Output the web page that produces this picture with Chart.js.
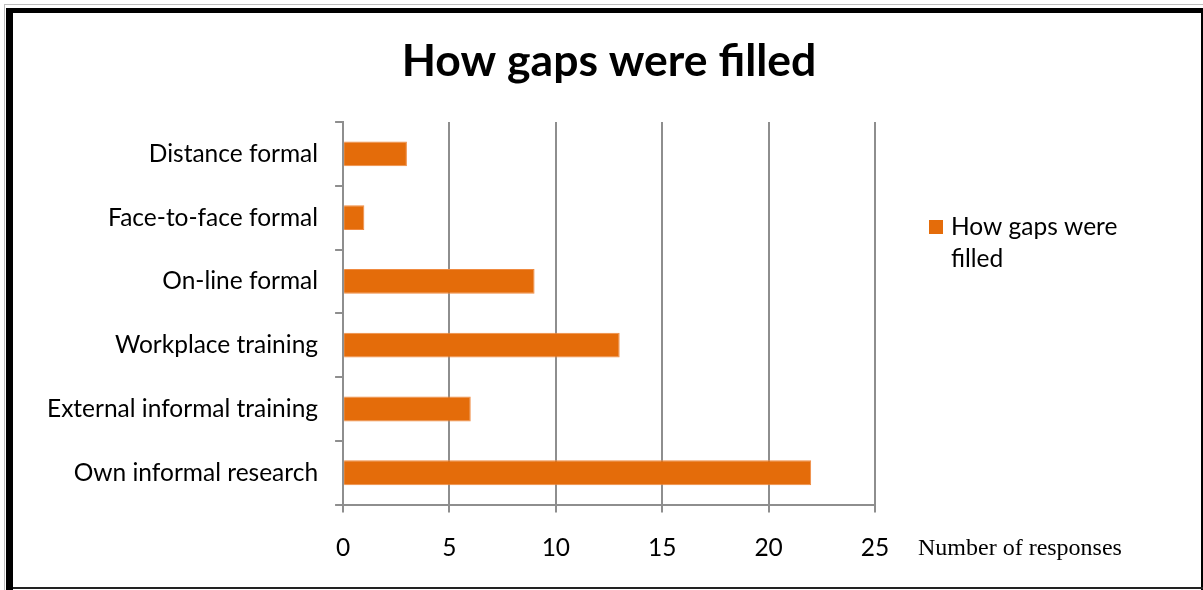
<!DOCTYPE html>
<html>
<head>
<meta charset="utf-8">
<script src="https://cdn.jsdelivr.net/npm/chart.js"></script>
<style>
  body { margin: 0; background: #fff; }
  #wrap { width: 1203px; height: 590px; }
</style>
</head>
<body>
<div id="wrap"><canvas id="chart" width="1203" height="590"></canvas></div>
<script>
const categories = ['Distance formal', 'Face-to-face formal', 'On-line formal', 'Workplace training', 'External informal training', 'Own informal research'];
const responses = [3, 1, 9, 13, 6, 22];
const xTicks = [0, 5, 10, 15, 20, 25];
const seriesName = 'How gaps were filled';
const axisTitle = 'Number of responses';

const orange = '#E46C0A';
const gridGray = '#8e8e8e';
const sansFont = 'Lato, "Open Sans", sans-serif';

// frame, title, legend and the axis title sitting beside the ticks
const extras = {
  id: 'extras',
  afterDraw(chart) {
    const ctx = chart.ctx;
    ctx.save();
    // outer frame
    ctx.fillStyle = '#bdbdbd';
    ctx.fillRect(4, 4, 1199, 1);
    ctx.fillRect(4, 4, 1, 586);
    ctx.fillStyle = '#000';
    ctx.fillRect(6, 8, 7, 582);
    ctx.fillRect(6, 8, 1197, 5);
    ctx.fillRect(1201, 8, 2, 582);
    ctx.fillStyle = '#222';
    ctx.fillRect(13, 587, 1190, 2);

    // title
    ctx.fillStyle = '#000';
    ctx.textBaseline = 'middle';
    ctx.textAlign = 'center';
    ctx.font = 'bold 44.5px ' + sansFont;
    ctx.fillText(seriesName, 609, 62);

    // legend
    ctx.fillStyle = orange;
    ctx.fillRect(929, 220, 14, 14);
    ctx.fillStyle = '#000';
    ctx.font = '24.5px ' + sansFont;
    ctx.textAlign = 'left';
    ctx.fillText('How gaps were', 951, 227);
    ctx.fillText('filled', 951, 259);

    // axis title
    ctx.font = '24px "Liberation Serif", "Times New Roman", serif';
    ctx.fillText(axisTitle, 918, 549);
    ctx.restore();
  }
};

new Chart(document.getElementById('chart'), {
  type: 'bar',
  data: {
    labels: categories,
    datasets: [{
      label: seriesName,
      data: responses,
      backgroundColor: orange,
      borderColor: '#F08A40',
      borderWidth: 1,
      categoryPercentage: 1,
      barPercentage: 0.39
    }]
  },
  options: {
    indexAxis: 'y',
    responsive: false,
    animation: false,
    layout: { padding: { left: 30, right: 328, top: 122, bottom: 6 } },
    plugins: {
      legend: { display: false },
      tooltip: { enabled: false },
      title: { display: false }
    },
    scales: {
      x: {
        type: 'linear',
        min: 0,
        max: 25,
        afterBuildTicks: axis => { axis.ticks = xTicks.map(v => ({ value: v })); },
        grid: { color: gridGray, lineWidth: 2, tickLength: 8 },
        border: { color: gridGray, width: 2 },
        ticks: { color: '#000', padding: 21, font: { family: sansFont, size: 24.5 } }
      },
      y: {
        grid: { drawOnChartArea: false, color: gridGray, lineWidth: 2, tickLength: 8 },
        border: { color: gridGray, width: 2 },
        ticks: { color: '#000', padding: 17, font: { family: sansFont, size: 24.5 } }
      }
    }
  },
  plugins: [extras]
});
</script>
</body>
</html>
